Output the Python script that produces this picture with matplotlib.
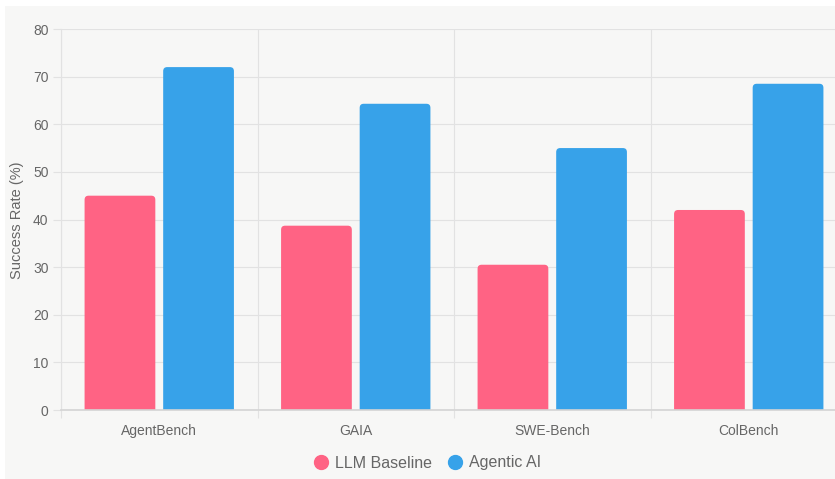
import matplotlib
matplotlib.use("Agg")
import matplotlib.pyplot as plt
import numpy as np
from matplotlib.patches import Rectangle, FancyBboxPatch
from matplotlib.lines import Line2D

categories = ["AgentBench", "GAIA", "SWE-Bench", "ColBench"]
llm_baseline = [45, 38.7, 30.5, 42]
agentic_ai = [72, 64.3, 55, 68.5]
y_ticks = [0, 10, 20, 30, 40, 50, 60, 70, 80]

plt.rcParams['font.family'] = ['Liberation Sans', 'DejaVu Sans']

W, H = 835, 479
fig = plt.figure(figsize=(W / 100, H / 100), dpi=100, facecolor="white")
bg = "#f7f7f6"
fig.patches.append(Rectangle((5 / W, 0), 1, 1 - 6 / H, transform=fig.transFigure,
                             facecolor=bg, edgecolor="none", zorder=-10))

ax_left, ax_right, ax_bottom, ax_top = 61, 847, 410, 29
ax = fig.add_axes([ax_left / W, 1 - ax_bottom / H, (ax_right - ax_left) / W,
                   (ax_bottom - ax_top) / H])
ax.set_facecolor(bg)

x = np.arange(len(categories))
bw = 0.36
pink = "#ff6384"
blue = "#37a2e9"
ax.set_xlim(-0.5, len(categories) - 0.5)
ax.set_ylim(0, 80)

bars1 = ax.bar(x - 0.2, llm_baseline, bw, color=pink, zorder=3)
bars2 = ax.bar(x + 0.2, agentic_ai, bw, color=blue, zorder=3)

# rounded top corners (Chart.js style)
px_per_x = (ax_right - ax_left) / len(categories)
px_per_y = (ax_bottom - ax_top) / 80
radius_px = 4
r = radius_px / px_per_x
aspect = px_per_x / px_per_y
for bars, col in ((bars1, pink), (bars2, blue)):
    for rect in bars:
        bx, by = rect.get_x(), rect.get_y()
        w, h = rect.get_width(), rect.get_height()
        rect.set_visible(False)
        ext = 2.0  # extend below the baseline so only top corners show rounded
        fb = FancyBboxPatch((bx, by - ext), w, h + ext,
                            boxstyle=f"round,pad=0,rounding_size={r}",
                            mutation_aspect=aspect, facecolor=col,
                            edgecolor="none", zorder=3)
        ax.add_patch(fb)

ax.set_yticks(y_ticks)
ax.set_xticks(x)
ax.set_xticklabels(categories)
ax.set_xticks(np.arange(-0.5, len(categories), 1.0), minor=True)

grid_c = "#e2e2e2"
ax.grid(axis="y", which="major", color=grid_c, linewidth=0.8, zorder=0)
ax.grid(axis="x", which="minor", color=grid_c, linewidth=0.8, zorder=0)
ax.grid(axis="x", which="major", visible=False)

tc = "#666666"
ax.tick_params(axis="y", length=6, color=grid_c, width=0.8, labelsize=10,
               labelcolor=tc, pad=3)
ax.tick_params(axis="x", which="major", length=0, labelsize=10,
               labelcolor=tc, pad=10)
ax.tick_params(axis="x", which="minor", length=6, color=grid_c, width=0.8)

for s in ["top", "right"]:
    ax.spines[s].set_visible(False)
ax.spines["left"].set_color(grid_c)
ax.spines["left"].set_linewidth(0.8)
ax.spines["bottom"].set_color("#d4d4d4")
ax.spines["bottom"].set_linewidth(1.2)
ax.spines["bottom"].set_zorder(4)

fig.text(17 / W, 1 - 220 / H, "Success Rate (%)", rotation=90, ha="center",
         va="center", fontsize=10.5, color=tc)

handles = [Line2D([0], [0], marker="o", linestyle="", markersize=10, color=pink),
           Line2D([0], [0], marker="o", linestyle="", markersize=10, color=blue)]
fig.legend(handles, ["LLM Baseline", "Agentic AI"], loc="center",
           bbox_to_anchor=(428 / W, 1 - 463 / H), ncol=2, frameon=False,
           fontsize=11.5, handlelength=0.8, columnspacing=1.0, handletextpad=0.5,
           labelcolor=tc)

fig.savefig("out.png", dpi=100, facecolor="white")
